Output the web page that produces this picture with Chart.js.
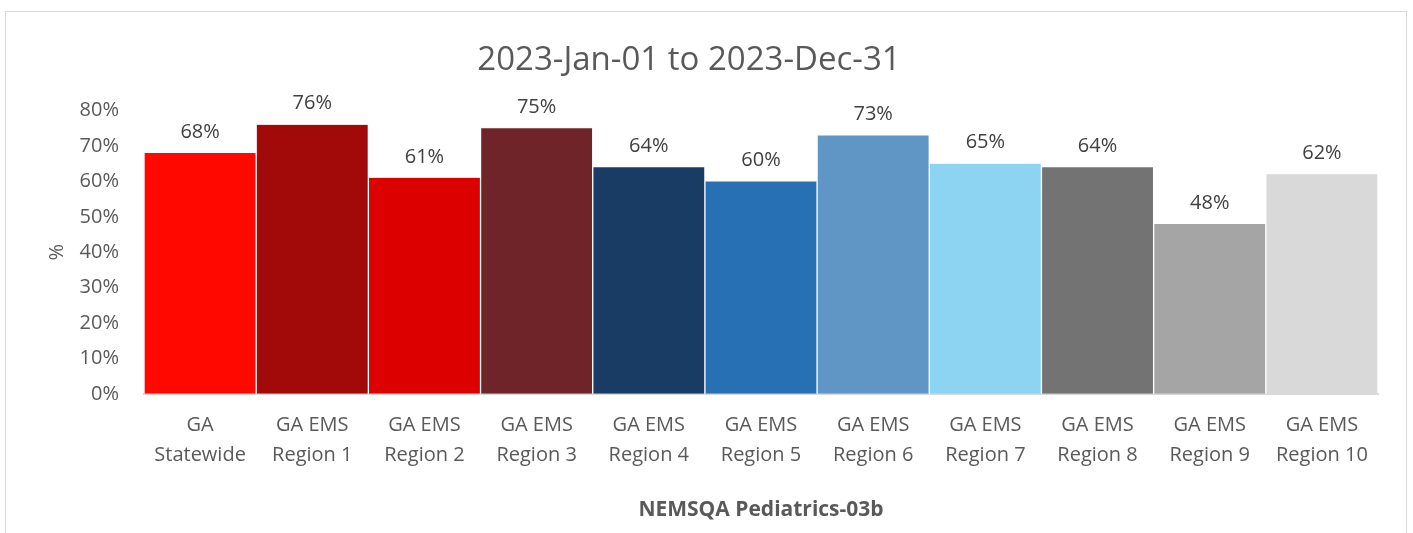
<!DOCTYPE html>
<html>
<head>
<meta charset="utf-8">
<script src="https://cdn.jsdelivr.net/npm/chart.js@4"></script>
<style>
  html, body { margin: 0; padding: 0; background: #fff; }
  #wrap { width: 1413px; height: 533px; }
</style>
</head>
<body>
<div id="wrap"><canvas id="myChart" width="1413" height="533"></canvas></div>
<script>
const regions = [
  ['GA', 'Statewide'], ['GA EMS', 'Region 1'], ['GA EMS', 'Region 2'], ['GA EMS', 'Region 3'],
  ['GA EMS', 'Region 4'], ['GA EMS', 'Region 5'], ['GA EMS', 'Region 6'], ['GA EMS', 'Region 7'],
  ['GA EMS', 'Region 8'], ['GA EMS', 'Region 9'], ['GA EMS', 'Region 10']
];
const percents = [68, 76, 61, 75, 64, 60, 73, 65, 64, 48, 62];
const barColors = ['#ff0800', '#a20a0a', '#dc0000', '#6e2428', '#183c64', '#2870b4',
  '#6096c6', '#8cd4f2', '#737373', '#a5a5a5', '#d9d9d9'];

const FONT = "'Open Sans', Lato, sans-serif";
const GREY = '#595959';

// outer frame like the office chart box
const frameBorder = {
  id: 'frameBorder',
  beforeDraw(chart) {
    const {ctx} = chart;
    ctx.save();
    ctx.strokeStyle = '#d9d9d9';
    ctx.lineWidth = 1;
    ctx.strokeRect(5.5, 11.5, 1401, 600);
    ctx.restore();
  }
};

// percent labels above bars
const barLabels = {
  id: 'barLabels',
  afterDatasetsDraw(chart) {
    const {ctx} = chart;
    ctx.save();
    ctx.font = '20px ' + FONT;
    ctx.fillStyle = '#404040';
    ctx.textAlign = 'center';
    ctx.textBaseline = 'bottom';
    chart.getDatasetMeta(0).data.forEach((bar, i) => {
      ctx.fillText(percents[i] + '%', bar.x, bar.y - 11);
    });
    ctx.restore();
  }
};

var ctx = document.getElementById('myChart').getContext('2d');
var chart = new Chart(ctx, {
  type: 'bar',
  data: {
    labels: regions,
    datasets: [{
      data: percents,
      backgroundColor: barColors,
      borderColor: '#ffffff',
      borderWidth: {left: 1, right: 1, top: 0, bottom: 0},
      borderSkipped: false,
      barPercentage: 1,
      categoryPercentage: 1
    }]
  },
  options: {
    responsive: false,
    animation: false,
    layout: {padding: {left: 0, right: 35, top: 16, bottom: 10}},
    plugins: {
      legend: {display: false},
      tooltip: {enabled: false},
      title: {
        display: true,
        text: '2023-Jan-01 to 2023-Dec-31',
        color: GREY,
        font: {family: FONT, size: 33, weight: 'normal'},
        padding: {top: 25, bottom: 30}
      }
    },
    scales: {
      x: {
        grid: {display: false, drawTicks: false},
        border: {display: true, color: '#d9d9d9', width: 2},
        ticks: {color: GREY, font: {family: FONT, size: 20, lineHeight: 1.5}, padding: 16, maxRotation: 0, autoSkip: false},
        title: {
          display: true,
          text: 'NEMSQA Pediatrics-03b',
          color: GREY,
          font: {family: FONT, size: 21, weight: 'bold'},
          padding: {top: 12, bottom: 0}
        }
      },
      y: {
        min: 0,
        max: 80,
        afterFit(scale) { scale.width = 144; },
        grid: {display: false, drawTicks: false},
        border: {display: false},
        ticks: {
          stepSize: 10,
          color: GREY,
          font: {family: FONT, size: 20},
          padding: 25,
          callback: v => v + '%'
        },
        title: {
          display: true,
          text: '%',
          color: GREY,
          font: {family: FONT, size: 20},
          padding: {top: 45, bottom: 0}
        }
      }
    }
  },
  plugins: [frameBorder, barLabels]
});
</script>
</body>
</html>
